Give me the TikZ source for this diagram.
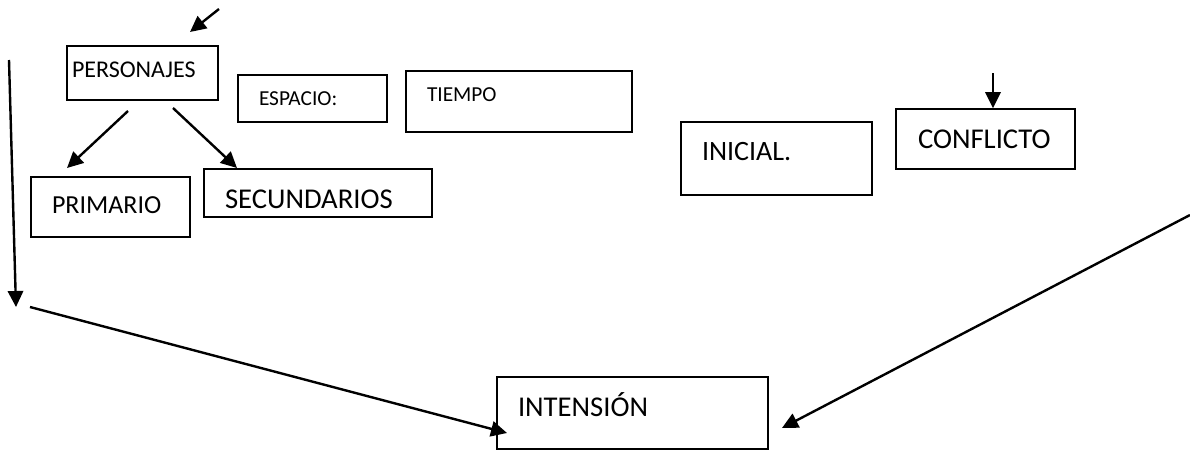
\documentclass[tikz,border=0pt]{standalone}
\usepackage{fontspec}
\setmainfont{Carlito}
\usetikzlibrary{arrows.meta}
\tikzset{
  box/.style={draw, line width=1.3pt, inner xsep=15.75pt, inner ysep=0pt, align=left,
    font=\fontsize{21.5}{24}\selectfont, text height=13.6pt, text depth=0pt},
  smallbox/.style={box, font=\fontsize{16}{19}\selectfont, text height=10.1pt},
  link/.style={-{Triangle[length=12pt,width=11.5pt]}, line width=1.8pt},
}
\begin{document}
\begin{tikzpicture}[x=0.75pt, y=-0.75pt]
      \useasboundingbox (0,0) rectangle (1190,450);
      \draw
        (142.5,73) node[smallbox, font=\fontsize{18}{21}\selectfont, text height=11.4pt, text depth=4.5pt,
          inner xsep=3.75pt, text width=105.75pt, minimum height=40.5pt] (pers){PERSONAJES}
        (312.5,98.5) node[smallbox, text width=80.25pt, minimum height=35.25pt] (esp){ESPACIO:}
        (519,101.5) node[smallbox, text depth=9.75pt, text width=138pt, minimum height=45.75pt] (tiem){TIEMPO}
        (110.5,207) node[box, font=\fontsize{19.5}{22}\selectfont, text height=12.3pt, text depth=3pt,
          text width=87.75pt, minimum height=45pt] (prim){PRIMARIO}
        (318,193) node[box, text height=22.6pt, text width=139.5pt, minimum height=36pt] (secu){SECUNDARIOS}
        (776.5,158.5) node[box, font=\fontsize{21}{24}\selectfont, text height=13.3pt, text depth=9.75pt,
          text width=111.75pt, minimum height=54.75pt] (inic){INICIAL.}
        (985.5,139) node[box, inner xsep=16.5pt, text width=101.25pt, minimum height=45pt] (conf){CONFLICTO}
        (632.5,413) node[box, text depth=9pt, text width=171.75pt, minimum height=54pt] (inte){INTENSIÓN};
      \path
        (219,9) coordinate (pin) (190,32) coordinate (pout)
        (128,111) coordinate (pl) (67,168) coordinate (ple)
        (173,108) coordinate (pr) (237,168) coordinate (pre)
        (993,73) coordinate (cin)
        (9,60) coordinate (lt) (16,307) coordinate (lb)
        (30,307) coordinate (dl) (507,433) coordinate (dle)
        (1190,215) coordinate (dr) (782,428) coordinate (dre);
      \begin{scope}[link]
        \draw (pin) to (pout);
        \draw (pl) to (ple);
        \draw (pr) to (pre);
        \draw (cin) to (cin |- conf.north);
        \draw (lt) to (lb);
        \draw (dl) to (dle);
        \draw (dr) to (dre);
      \end{scope}
    \end{tikzpicture}
\end{document}
